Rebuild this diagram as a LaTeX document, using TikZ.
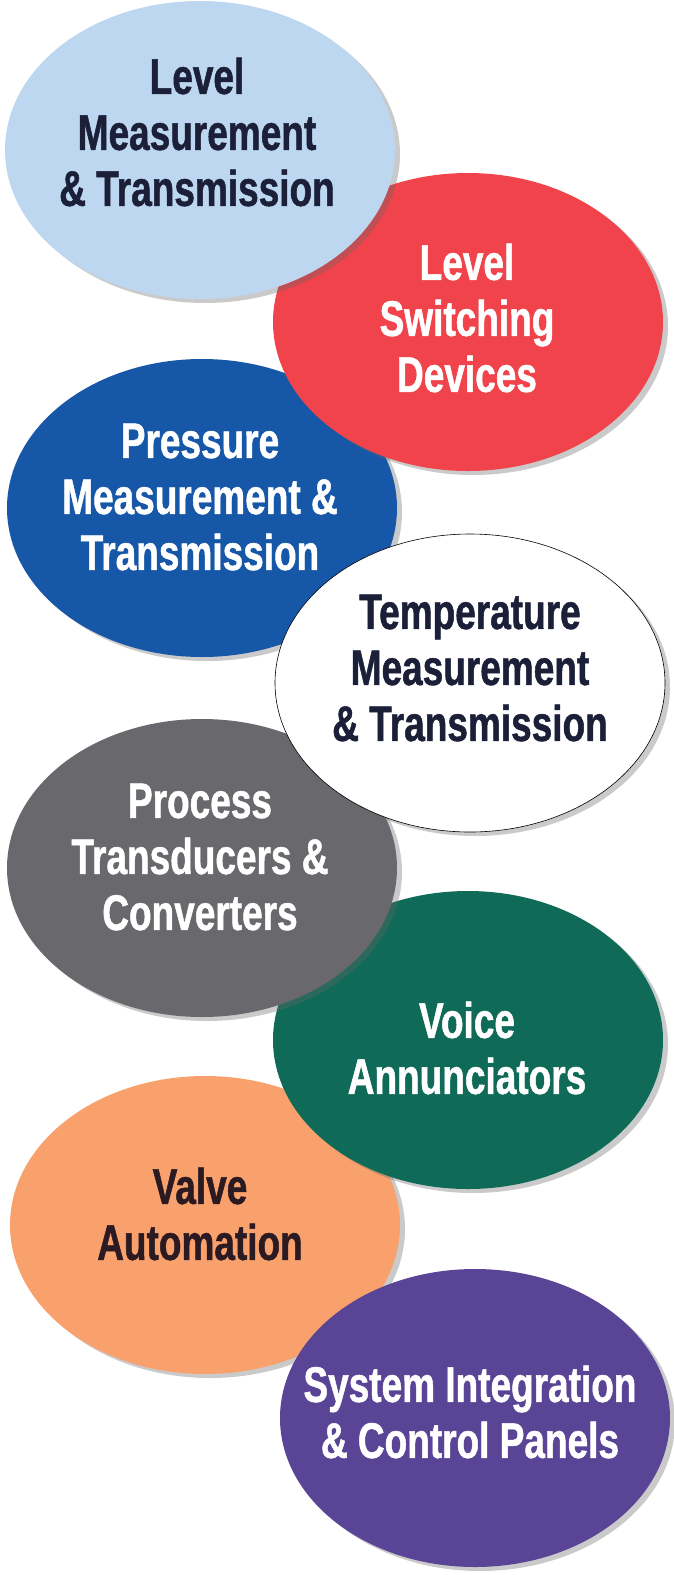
\documentclass[tikz,border=0pt]{standalone}
\usepackage{fontspec}
\setmainfont{Liberation Sans}[FakeStretch=0.74,BoldFeatures={FakeBold=1}]
\usetikzlibrary{shapes.geometric}
\usetikzlibrary{shadows}
\definecolor{skyblue}{HTML}{BDD7F0}
\definecolor{alarmred}{HTML}{F0434B}
\definecolor{royalblue}{HTML}{1757A8}
\definecolor{slategray}{HTML}{69696D}
\definecolor{deepgreen}{HTML}{0F6A57}
\definecolor{peach}{HTML}{F9A16D}
\definecolor{violet}{HTML}{5A4496}
\definecolor{navy}{HTML}{1B2038}
\definecolor{plum}{HTML}{2B1A22}

\begin{document}
\begin{tikzpicture}[x=1pt,y=-1pt,
bubble/.style={ellipse,minimum width=390pt,minimum height=298pt,inner sep=0pt,
  drop shadow={shadow xshift=5pt,shadow yshift=-4pt,fill=black!60,opacity=0.35}},
caption/.style={align=center,font=\bfseries\fontsize{50}{56}\selectfont}]
\useasboundingbox (0,0) rectangle (674,1575);
\node[bubble,fill=peach] (valve) at (205,1225) {};
\node[caption,text=plum] (valvetext) at (200,1214) {Valve\\Automation};
\node[bubble,fill=deepgreen] (voice) at (468,1040) {};
\node[caption,text=white] (voicetext) at (467,1048) {Voice\\Annunciators};
\node[bubble,fill=slategray] (process) at (202,868) {};
\node[caption,text=white] (processtext) at (200,857) {Process\\Transducers \&\\Converters};
\node[bubble,fill=royalblue] (pressure) at (202,508) {};
\node[caption,text=white] (pressuretext) at (200,497) {Pressure\\Measurement \&\\Transmission};
\node[bubble,fill=white,draw=black,line width=0.6pt] (temp) at (470,683) {};
\node[caption,text=navy] (temptext) at (470,668) {Temperature\\Measurement\\\& Transmission};
\node[bubble,fill=alarmred] (switch) at (468,322) {};
\node[caption,text=white] (switchtext) at (467,318) {Level\\Switching\\Devices};
\node[bubble,fill=skyblue] (level) at (200,150) {};
\node[caption,text=navy] (leveltext) at (197,132) {Level\\Measurement\\\& Transmission};
\node[bubble,fill=violet] (system) at (475,1418) {};
\node[caption,text=white] (systemtext) at (470,1412) {System Integration\\\& Control Panels};
\end{tikzpicture}
\end{document}
